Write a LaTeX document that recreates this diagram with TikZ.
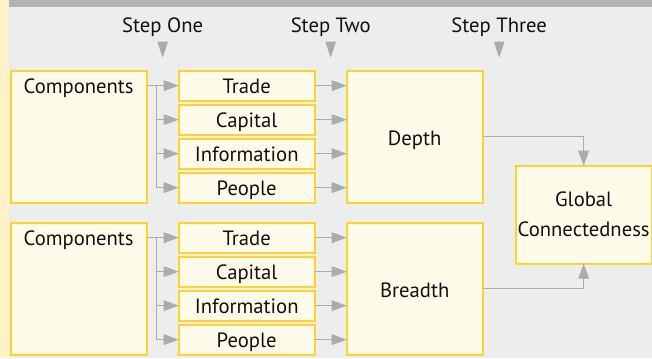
\documentclass[tikz,border=0pt]{standalone}
\usepackage{fontspec}
\setmainfont{PT Sans}
\usetikzlibrary{arrows.meta,positioning,calc}
\definecolor{gcbg}{HTML}{ECEDED}
\definecolor{gcbar}{HTML}{B1B3B4}
\definecolor{gcstrip}{HTML}{FFF1C8}
\definecolor{gcfill}{HTML}{FEFBEB}
\definecolor{gcline}{HTML}{FFD32A}
\definecolor{gcarr}{HTML}{A9ABAD}
\definecolor{gctext}{HTML}{111111}

\begin{document}
\begin{tikzpicture}[font=\fontsize{15.5pt}{22.5pt}\selectfont,text=gctext,
  >={Triangle[length=11.25pt,width=8pt]},node distance=3pt,
  bxbase/.style={draw=gcline,fill=gcfill,line width=1.5pt,inner xsep=0pt,inner ysep=0pt,
    outer sep=0pt,minimum width=102pt},
  bx/.style={bxbase,text height=17pt,text depth=5.5pt},
  comp/.style={bx,text depth=82pt},
  tall/.style={bxbase,text height=56.25pt,text depth=42.75pt},
  gl/.style={bxbase,align=center,minimum height=73.5pt},
  hd/.style={inner sep=0pt,anchor=base},
  ed/.style={->,gcarr,line width=0.75pt},
  ln/.style={gcarr,line width=0.75pt}]
\clip (0,0) rectangle (489pt,-268.5pt);
\fill[gcbg] (0,0) rectangle (489pt,-268.5pt);
\fill[gcbar] (0,0) rectangle (489pt,-5.25pt);
\fill[gcstrip] (0,0) rectangle (6.4pt,-268.5pt);

% upper row: depth
\node[comp,anchor=north west] (comp1) at (8pt,-53pt) {Components};
\node[bx,right=24pt of comp1.north east,anchor=north west] (trade1) {Trade};
\node[bx,below=of trade1] (cap1) {Capital};
\node[bx,below=of cap1] (info1) {Information};
\node[bx,below=of info1] (ppl1) {People};
\node[tall,right=24pt of trade1.north east,anchor=north west] (depth) {Depth};

% lower row: breadth
\node[comp,below=15pt of comp1] (comp2) {Components};
\node[bx,right=24pt of comp2.north east,anchor=north west] (trade2) {Trade};
\node[bx,below=of trade2] (cap2) {Capital};
\node[bx,below=of cap2] (info2) {Information};
\node[bx,below=of info2] (ppl2) {People};
\node[tall,right=24pt of trade2.north east,anchor=north west] (breadth) {Breadth};

\coordinate (mid) at ($(depth.east)!0.5!(breadth.east)$);
\node[gl,right=24.75pt of mid,yshift=-1.5pt] (glob) {Global\\Connectedness};

% step headings
\node[hd] (s1) at ($(comp1.north east)!0.5!(trade1.north west)+(0,28.5pt)$) {Step One};
\node[hd] (s2) at ($(trade1.north east)!0.5!(depth.north west)+(0,28.5pt)$) {Step Two};
\node[hd] (s3) at ($(depth.north east)!0.5!(glob.west |- depth.north)+(0,28.5pt)$) {Step Three};
\foreach \s in {s1,s2,s3}
  \fill[gcarr] ($(\s.base)+(-4pt,-6.75pt)$) -- ++(8pt,0) -- ++(-4pt,-12pt) -- cycle;

% fan out of the components
\coordinate (b1) at ($(comp1.north east)+(7.7pt,0)$);
\coordinate (b2) at ($(comp2.north east)+(7.7pt,0)$);
\draw[ln] (b1 |- trade1) -- (b1 |- ppl1);
\draw[ln] (b2 |- trade2) -- (b2 |- ppl2);
\draw[ed] (comp1.east |- trade1) -- (trade1);
\draw[ed] (comp2.east |- trade2) -- (trade2);
\foreach \n in {cap1,info1,ppl1} \draw[ed] (b1 |- \n) -- (\n);
\foreach \n in {cap2,info2,ppl2} \draw[ed] (b2 |- \n) -- (\n);

% into depth and breadth
\foreach \n in {trade1,cap1,info1,ppl1} \draw[ed] (\n) -- (depth.west |- \n);
\foreach \n in {trade2,cap2,info2,ppl2} \draw[ed] (\n) -- (breadth.west |- \n);

\draw[ed] (depth) -| (glob);
\draw[ed] (breadth) -| (glob);
\end{tikzpicture}
\end{document}
